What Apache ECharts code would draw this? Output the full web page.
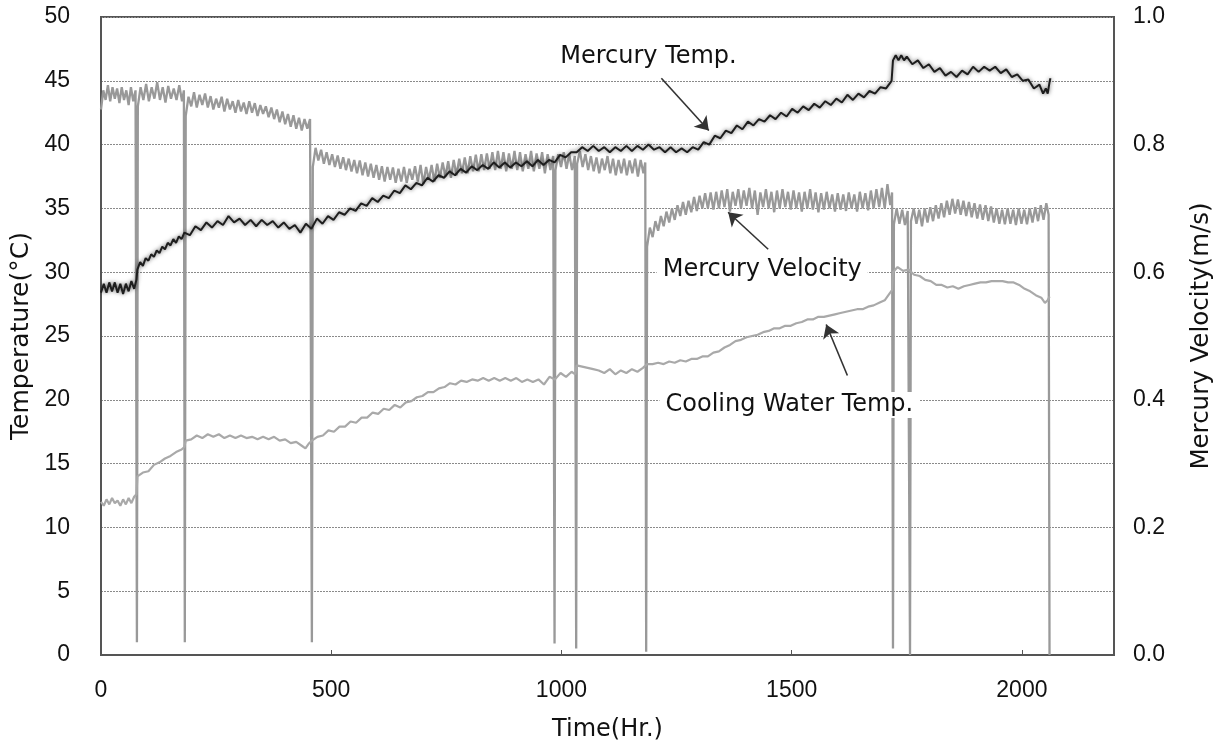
<!DOCTYPE html>
<html><head><meta charset="utf-8">
<script src="https://cdn.jsdelivr.net/npm/echarts@6/dist/echarts.min.js"></script>
<style>html,body{margin:0;padding:0;background:#fff}#c{width:1225px;height:747px}</style>
</head><body><div id="c"></div>
<script>
// Time ticks (Hr.)
const timeTicks = [0, 500, 1000, 1500, 2000];
const tempTicks = [0, 5, 10, 15, 20, 25, 30, 35, 40, 45, 50];
const velTicks = ['0.0', '0.2', '0.4', '0.6', '0.8', '1.0'];

// Mercury velocity (m/s), [time, value]
const mercuryVelocity = [
[0,.855],[5,.885],[10,.87],[15,.893],[20,.868],[25,.89],[30,.872],[35,.888],[40,.865],[45,.89],[50,.87],[55,.885],[60,.862],[65,.89],[70,.868],[75,.885],[78,.02],
[80,.86],[86,.89],[92,.87],[98,.895],[104,.868],[110,.89],[116,.872],[122,.898],[128,.87],[134,.89],[140,.866],[146,.892],[152,.872],[158,.888],[164,.87],[170,.893],[176,.868],[180,.885],[182,.02],
[184,.845],[190,.875],[196,.86],[202,.882],[208,.858],[214,.878],[220,.862],[226,.88],[232,.858],[238,.876],[244,.855],[250,.872],[256,.858],[262,.875],[268,.852],[274,.872],[280,.855],[286,.868],[292,.85],[298,.87],[304,.852],[310,.866],[316,.848],[322,.868],[328,.85],[334,.865],[340,.845],[346,.862],[352,.848],[358,.86],[364,.843],[370,.858],[376,.84],[382,.855],[388,.835],[394,.852],[400,.832],[406,.848],[412,.828],[418,.846],[424,.825],[430,.842],[436,.822],[442,.84],[448,.825],[454,.84],[458,.02],
[460,.765],[466,.795],[472,.775],[478,.792],[484,.77],[490,.788],[496,.768],[502,.785],[508,.765],[514,.783],[520,.762],[526,.78],[532,.76],[538,.778],[544,.758],[550,.776],[556,.755],[562,.775],[568,.752],[574,.772],[580,.75],[586,.77],[592,.748],[598,.768],[604,.745],[610,.766],[616,.742],[622,.765],[628,.745],[634,.764],[640,.74],[646,.762],[652,.742],[658,.765],[664,.74],[670,.762],[676,.745],[682,.766],[688,.742],[694,.768],[700,.738],[706,.765],[712,.745],[718,.768],[724,.742],[730,.77],[736,.748],[742,.772],[748,.75],[754,.774],[760,.748],[766,.776],[772,.752],[778,.778],[784,.755],[790,.78],[796,.755],[802,.782],[808,.758],[814,.784],[820,.758],[826,.785],[832,.76],[838,.786],[844,.762],[850,.788],[856,.76],[862,.79],[868,.762],[874,.788],[880,.758],[886,.786],[892,.762],[898,.79],[904,.76],[910,.788],[916,.758],[922,.785],[928,.762],[934,.79],[940,.758],[946,.786],[952,.762],[958,.788],[964,.755],[970,.785],[976,.76],[982,.782],[985,.018],
[987,.76],[993,.785],[999,.765],[1005,.788],[1011,.762],[1017,.785],[1023,.76],[1029,.782],[1032,.01],
[1034,.77],[1040,.79],[1046,.765],[1052,.785],[1058,.76],[1064,.782],[1070,.758],[1076,.78],[1082,.755],[1088,.778],[1094,.76],[1100,.782],[1106,.755],[1112,.778],[1118,.752],[1124,.776],[1130,.755],[1136,.778],[1142,.752],[1148,.775],[1154,.755],[1160,.778],[1166,.75],[1172,.776],[1178,.755],[1182,.772],[1184,.005],
[1186,.64],[1192,.67],[1198,.655],[1204,.68],[1210,.665],[1216,.688],[1222,.672],[1228,.695],[1234,.678],[1240,.7],[1246,.682],[1252,.705],[1258,.688],[1264,.71],[1270,.69],[1276,.712],[1282,.694],[1288,.718],[1294,.696],[1300,.72],[1306,.7],[1312,.724],[1318,.7],[1324,.725],[1330,.698],[1336,.726],[1342,.7],[1348,.728],[1354,.702],[1360,.73],[1366,.695],[1372,.726],[1378,.704],[1384,.73],[1390,.7],[1396,.728],[1402,.704],[1408,.732],[1414,.7],[1420,.728],[1426,.69],[1432,.725],[1438,.702],[1444,.73],[1450,.7],[1456,.726],[1462,.694],[1468,.728],[1474,.7],[1480,.73],[1486,.702],[1492,.726],[1498,.698],[1504,.728],[1510,.7],[1516,.725],[1522,.695],[1528,.726],[1534,.7],[1540,.73],[1546,.698],[1552,.725],[1558,.694],[1564,.724],[1570,.698],[1576,.726],[1582,.7],[1588,.722],[1594,.695],[1600,.724],[1606,.698],[1612,.722],[1618,.696],[1624,.725],[1630,.7],[1636,.722],[1642,.695],[1648,.726],[1654,.7],[1660,.724],[1666,.697],[1672,.728],[1678,.7],[1684,.73],[1690,.702],[1696,.732],[1702,.7],[1708,.738],[1714,.705],[1718,.725],[1720,.01],
[1722,.675],[1728,.7],[1734,.676],[1740,.698],[1746,.674],[1752,.696],[1757,0],
[1759,.68],[1765,.7],[1771,.676],[1777,.698],[1783,.672],[1789,.7],[1795,.678],[1801,.702],[1807,.68],[1813,.705],[1819,.684],[1825,.708],[1831,.686],[1837,.712],[1843,.69],[1849,.715],[1855,.692],[1861,.714],[1867,.69],[1873,.712],[1879,.688],[1885,.71],[1891,.686],[1897,.708],[1903,.684],[1909,.706],[1915,.682],[1921,.705],[1927,.68],[1933,.703],[1939,.678],[1945,.7],[1951,.676],[1957,.698],[1963,.675],[1969,.7],[1975,.676],[1981,.698],[1987,.674],[1993,.7],[1999,.676],[2005,.698],[2011,.675],[2017,.7],[2023,.678],[2029,.702],[2035,.68],[2041,.705],[2047,.682],[2053,.708],[2058,.69],[2060,0]
];

// Mercury temperature (°C)
const mercuryTemp = [
[0,28.4],[6,29.1],[12,28.4],[18,29.2],[24,28.5],[30,29.2],[36,28.4],[42,29.1],[48,28.3],[54,29.1],[60,28.5],[66,29.3],[72,28.7],[77,29.4],
[79,30.2],[85,30.8],[91,30.5],[97,31.1],[103,30.9],[109,31.4],[115,31.2],[121,31.7],[127,31.5],[133,32.0],[139,31.8],[145,32.3],[151,32.1],[157,32.6],[163,32.3],[169,32.8],[175,32.6],[181,33.1],
[193,32.9],[205,33.6],[217,33.3],[229,33.9],[241,33.5],[253,34.0],[265,33.7],[277,34.4],[289,33.9],[301,34.2],[313,33.7],[325,34.1],[337,33.6],[349,34.1],[361,33.7],[373,34.0],[385,33.5],[397,33.9],[409,33.4],[421,33.7],[433,33.1],[445,33.8],[457,33.4],[469,34.2],[481,33.8],[493,34.4],[505,34.1],[517,34.7],[529,34.5],[541,35.0],[553,34.8],[565,35.4],[577,35.2],[589,35.8],[601,35.5],[613,36.0],[625,35.8],[637,36.4],[649,36.2],[661,36.8],[673,36.5],[685,37.0],[697,36.8],[709,37.4],[721,37.1],[733,37.6],[745,37.4],[757,37.9],[769,37.6],[781,38.1],[793,37.8],[805,38.3],[817,38.0],[829,38.4],[841,38.1],[853,38.6],[865,38.2],[877,38.6],[889,38.2],[901,38.6],[913,38.3],[925,38.7],[937,38.3],[949,38.8],[961,38.4],[973,38.8],[985,38.6],[997,39.2],[1009,39.0],[1021,39.4],[1033,39.4],[1045,39.8],[1057,39.5],[1069,39.9],[1081,39.5],[1093,39.8],[1105,39.4],[1117,39.8],[1129,39.5],[1141,39.9],[1153,39.5],[1165,39.9],[1177,39.6],[1189,40.0],[1201,39.6],[1213,39.8],[1225,39.4],[1237,39.8],[1249,39.4],[1261,39.7],[1273,39.4],[1285,39.8],[1297,39.6],[1309,40.2],[1321,40.0],[1333,40.7],[1345,40.5],[1357,41.1],[1369,40.9],[1381,41.5],[1393,41.2],[1405,41.8],[1417,41.5],[1429,42.0],[1441,41.8],[1453,42.3],[1465,42.0],[1477,42.5],[1489,42.2],[1501,42.8],[1513,42.5],[1525,43.0],[1537,42.7],[1549,43.2],[1561,42.9],[1573,43.4],[1585,43.1],[1597,43.6],[1609,43.3],[1621,43.9],[1633,43.5],[1645,44.0],[1657,43.7],[1669,44.2],[1681,44.0],[1693,44.5],[1705,44.4],[1717,45.0],
[1720,46.6],[1726,47.0],[1732,46.6],[1738,47.0],[1744,46.6],[1750,46.9],[1762,46.3],[1774,46.6],[1786,46.0],[1798,46.3],[1810,45.7],[1822,46.0],[1834,45.4],[1846,45.7],[1858,45.3],[1870,45.8],[1882,45.5],[1894,46.1],[1906,45.7],[1918,46.1],[1930,45.8],[1942,46.1],[1954,45.6],[1966,45.9],[1978,45.3],[1990,45.5],[2002,45.0],[2014,45.1],[2026,44.4],[2038,44.7],[2046,44.0],[2052,44.4],[2056,44.0],[2060,44.9],[2062,45.2]
];

// Cooling water temperature (°C)
const coolingWaterTemp = [
[0,12.0],[6,11.7],[12,12.2],[18,11.8],[24,12.3],[30,11.9],[36,12.1],[42,11.7],[48,12.2],[54,11.8],[60,12.3],[66,11.9],[72,12.4],[77,12.6],
[79,14.0],[91,14.3],[103,14.4],[115,14.9],[127,15.1],[139,15.4],[151,15.6],[163,15.9],[175,16.1],[181,16.3],
[184,16.8],[196,16.9],[208,17.2],[220,17.0],[232,17.3],[244,17.1],[256,17.3],[268,17.0],[280,17.2],[292,17.0],[304,17.2],[316,17.0],[328,17.1],[340,16.9],[352,17.1],[364,16.9],[376,17.1],[388,16.8],[400,16.9],[412,16.6],[424,16.7],[436,16.4],[444,16.2],[452,16.6],[458,16.8],[470,17.1],[482,17.2],[494,17.6],[506,17.5],[518,17.9],[530,17.9],[542,18.3],[554,18.2],[566,18.6],[578,18.6],[590,19.0],[602,18.9],[614,19.3],[626,19.2],[638,19.6],[650,19.4],[662,19.8],[674,19.9],[686,20.2],[698,20.3],[710,20.6],[722,20.6],[734,20.9],[746,21.0],[758,21.3],[770,21.2],[782,21.5],[794,21.4],[806,21.6],[818,21.5],[830,21.7],[842,21.5],[854,21.7],[866,21.5],[878,21.7],[890,21.5],[902,21.7],[914,21.4],[926,21.6],[938,21.4],[950,21.6],[962,21.2],[974,21.8],[986,21.6],[998,22.1],[1010,21.8],[1022,22.2],[1030,22.0],
[1033,22.7],[1045,22.6],[1057,22.5],[1069,22.4],[1081,22.3],[1093,22.1],[1105,22.4],[1117,22.0],[1129,22.3],[1141,22.1],[1153,22.4],[1165,22.2],[1177,22.5],[1186,22.8],[1198,22.8],[1210,22.9],[1222,22.8],[1234,23.0],[1246,22.9],[1258,23.1],[1270,23.0],[1282,23.2],[1294,23.2],[1306,23.4],[1318,23.4],[1330,23.7],[1342,23.8],[1354,24.1],[1366,24.3],[1378,24.6],[1390,24.7],[1402,24.9],[1414,25.0],[1426,25.1],[1438,25.3],[1450,25.4],[1462,25.6],[1474,25.6],[1486,25.8],[1498,25.8],[1510,26.0],[1522,26.1],[1534,26.3],[1546,26.3],[1558,26.5],[1570,26.5],[1582,26.6],[1594,26.7],[1606,26.8],[1618,26.9],[1630,27.0],[1642,27.1],[1654,27.1],[1666,27.3],[1678,27.4],[1690,27.6],[1702,27.8],[1712,28.3],[1718,28.6],
[1720,30.0],[1730,30.4],[1742,30.1],[1754,30.2],[1766,29.8],[1778,29.7],[1790,29.4],[1802,29.3],[1814,29.0],[1826,29.0],[1838,28.8],[1850,28.9],[1862,28.7],[1874,28.9],[1886,29.0],[1898,29.1],[1910,29.2],[1922,29.2],[1934,29.3],[1946,29.3],[1958,29.3],[1970,29.2],[1982,29.2],[1994,29.0],[2006,28.7],[2018,28.5],[2030,28.2],[2042,28.0],[2050,27.6],[2056,27.8],[2060,28.1]
];

// Annotation labels: [time, temperature]
const labelTexts = ['Mercury Temp.', 'Mercury Velocity', 'Cooling Water Temp.'];
const labelPos = [[1189, 46.9], [1436, 30.2], [1495, 19.6]];
// Arrows: [[fromTime, fromTemp], [toTime, toTemp]]
const arrows = [
  [[1217, 45.2], [1320, 41.1]],
  [[1449, 31.8], [1362, 34.7]],
  [[1621, 21.9], [1575, 25.9]]
];

const NUMFONT = '"Liberation Sans", Arial, sans-serif';
const TXTFONT = '"DejaVu Sans", "Noto Sans CJK JP", sans-serif';
const chart = echarts.init(document.getElementById('c'), null, {renderer: 'canvas'});
chart.setOption({
  animation: false,
  backgroundColor: '#fff',
  grid: {left: 101, right: 111, top: 17, bottom: 89, show: true, borderColor: '#555', borderWidth: 2, backgroundColor: 'transparent'},
  xAxis: {
    type: 'value', min: 0, max: 2200, interval: 500,
    name: 'Time(Hr.)', nameLocation: 'middle', nameGap: 75,
    nameTextStyle: {fontFamily: TXTFONT, fontSize: 24, color: '#111', verticalAlign: 'middle'},
    axisLine: {show: true, lineStyle: {color: '#555', width: 2}},
    axisTick: {show: true, inside: true, length: 5, lineStyle: {color: '#555'}},
    axisLabel: {fontFamily: NUMFONT, fontSize: 23, color: '#111', margin: 24,
      formatter: v => timeTicks.includes(v) ? String(v) : ''},
    splitLine: {show: false}
  },
  yAxis: [{
    type: 'value', min: 0, max: 50, interval: 5, position: 'left',
    name: 'Temperature(°C)', nameLocation: 'middle', nameGap: 79, nameRotate: 90,
    nameTextStyle: {fontFamily: TXTFONT, fontSize: 25, color: '#111', verticalAlign: 'middle'},
    axisLine: {show: true, lineStyle: {color: '#555', width: 2}},
    axisTick: {show: false},
    axisLabel: {fontFamily: NUMFONT, fontSize: 23, color: '#111', margin: 31,
      formatter: v => tempTicks.includes(v) ? String(v) : ''},
    splitLine: {show: true, lineStyle: {color: '#8a8a8a', type: [2, 1], width: 1}}
  }, {
    type: 'value', min: 0, max: 1, interval: 0.2, position: 'right',
    name: 'Mercury Velocity(m/s)', nameLocation: 'middle', nameGap: 88, nameRotate: 90,
    nameTextStyle: {fontFamily: TXTFONT, fontSize: 24.5, color: '#111', verticalAlign: 'middle'},
    axisLine: {show: true, lineStyle: {color: '#555', width: 2}},
    axisTick: {show: false},
    axisLabel: {fontFamily: NUMFONT, fontSize: 23, color: '#111', margin: 19,
      formatter: v => velTicks[Math.round(v * 5)] || ''},
    splitLine: {show: false}
  }],
  series: [{
    name: 'Mercury Velocity', type: 'line', yAxisIndex: 1, data: mercuryVelocity,
    showSymbol: false, symbol: 'none', z: 2,
    lineStyle: {color: '#999', width: 2.3}
  }, {
    name: 'Cooling Water Temp.', type: 'line', yAxisIndex: 0, data: coolingWaterTemp,
    showSymbol: false, symbol: 'none', z: 3,
    lineStyle: {color: '#a9a9a9', width: 2.2}
  }, {
    name: 'Mercury Temp.', type: 'line', yAxisIndex: 0, data: mercuryTemp,
    showSymbol: false, symbol: 'none', z: 4,
    lineStyle: {color: '#1e1e1e', width: 2, shadowColor: 'rgba(0,0,0,0.6)', shadowBlur: 4},
    markPoint: {
      symbol: 'circle', symbolSize: 1, silent: true,
      itemStyle: {color: 'rgba(0,0,0,0)'},
      label: {show: true, position: 'inside', fontFamily: TXTFONT, fontSize: 24, color: '#111',
        backgroundColor: '#fff', padding: [1, 6]},
      data: labelTexts.map((t, i) => ({coord: labelPos[i], value: t, label: {formatter: t}}))
    },
    markLine: {
      silent: true, symbol: ['none', 'arrow'], symbolSize: 13,
      label: {show: false},
      lineStyle: {color: '#333', width: 1.6, type: 'solid'},
      data: arrows.map(a => [{coord: a[0]}, {coord: a[1]}])
    }
  }]
});
</script></body></html>
